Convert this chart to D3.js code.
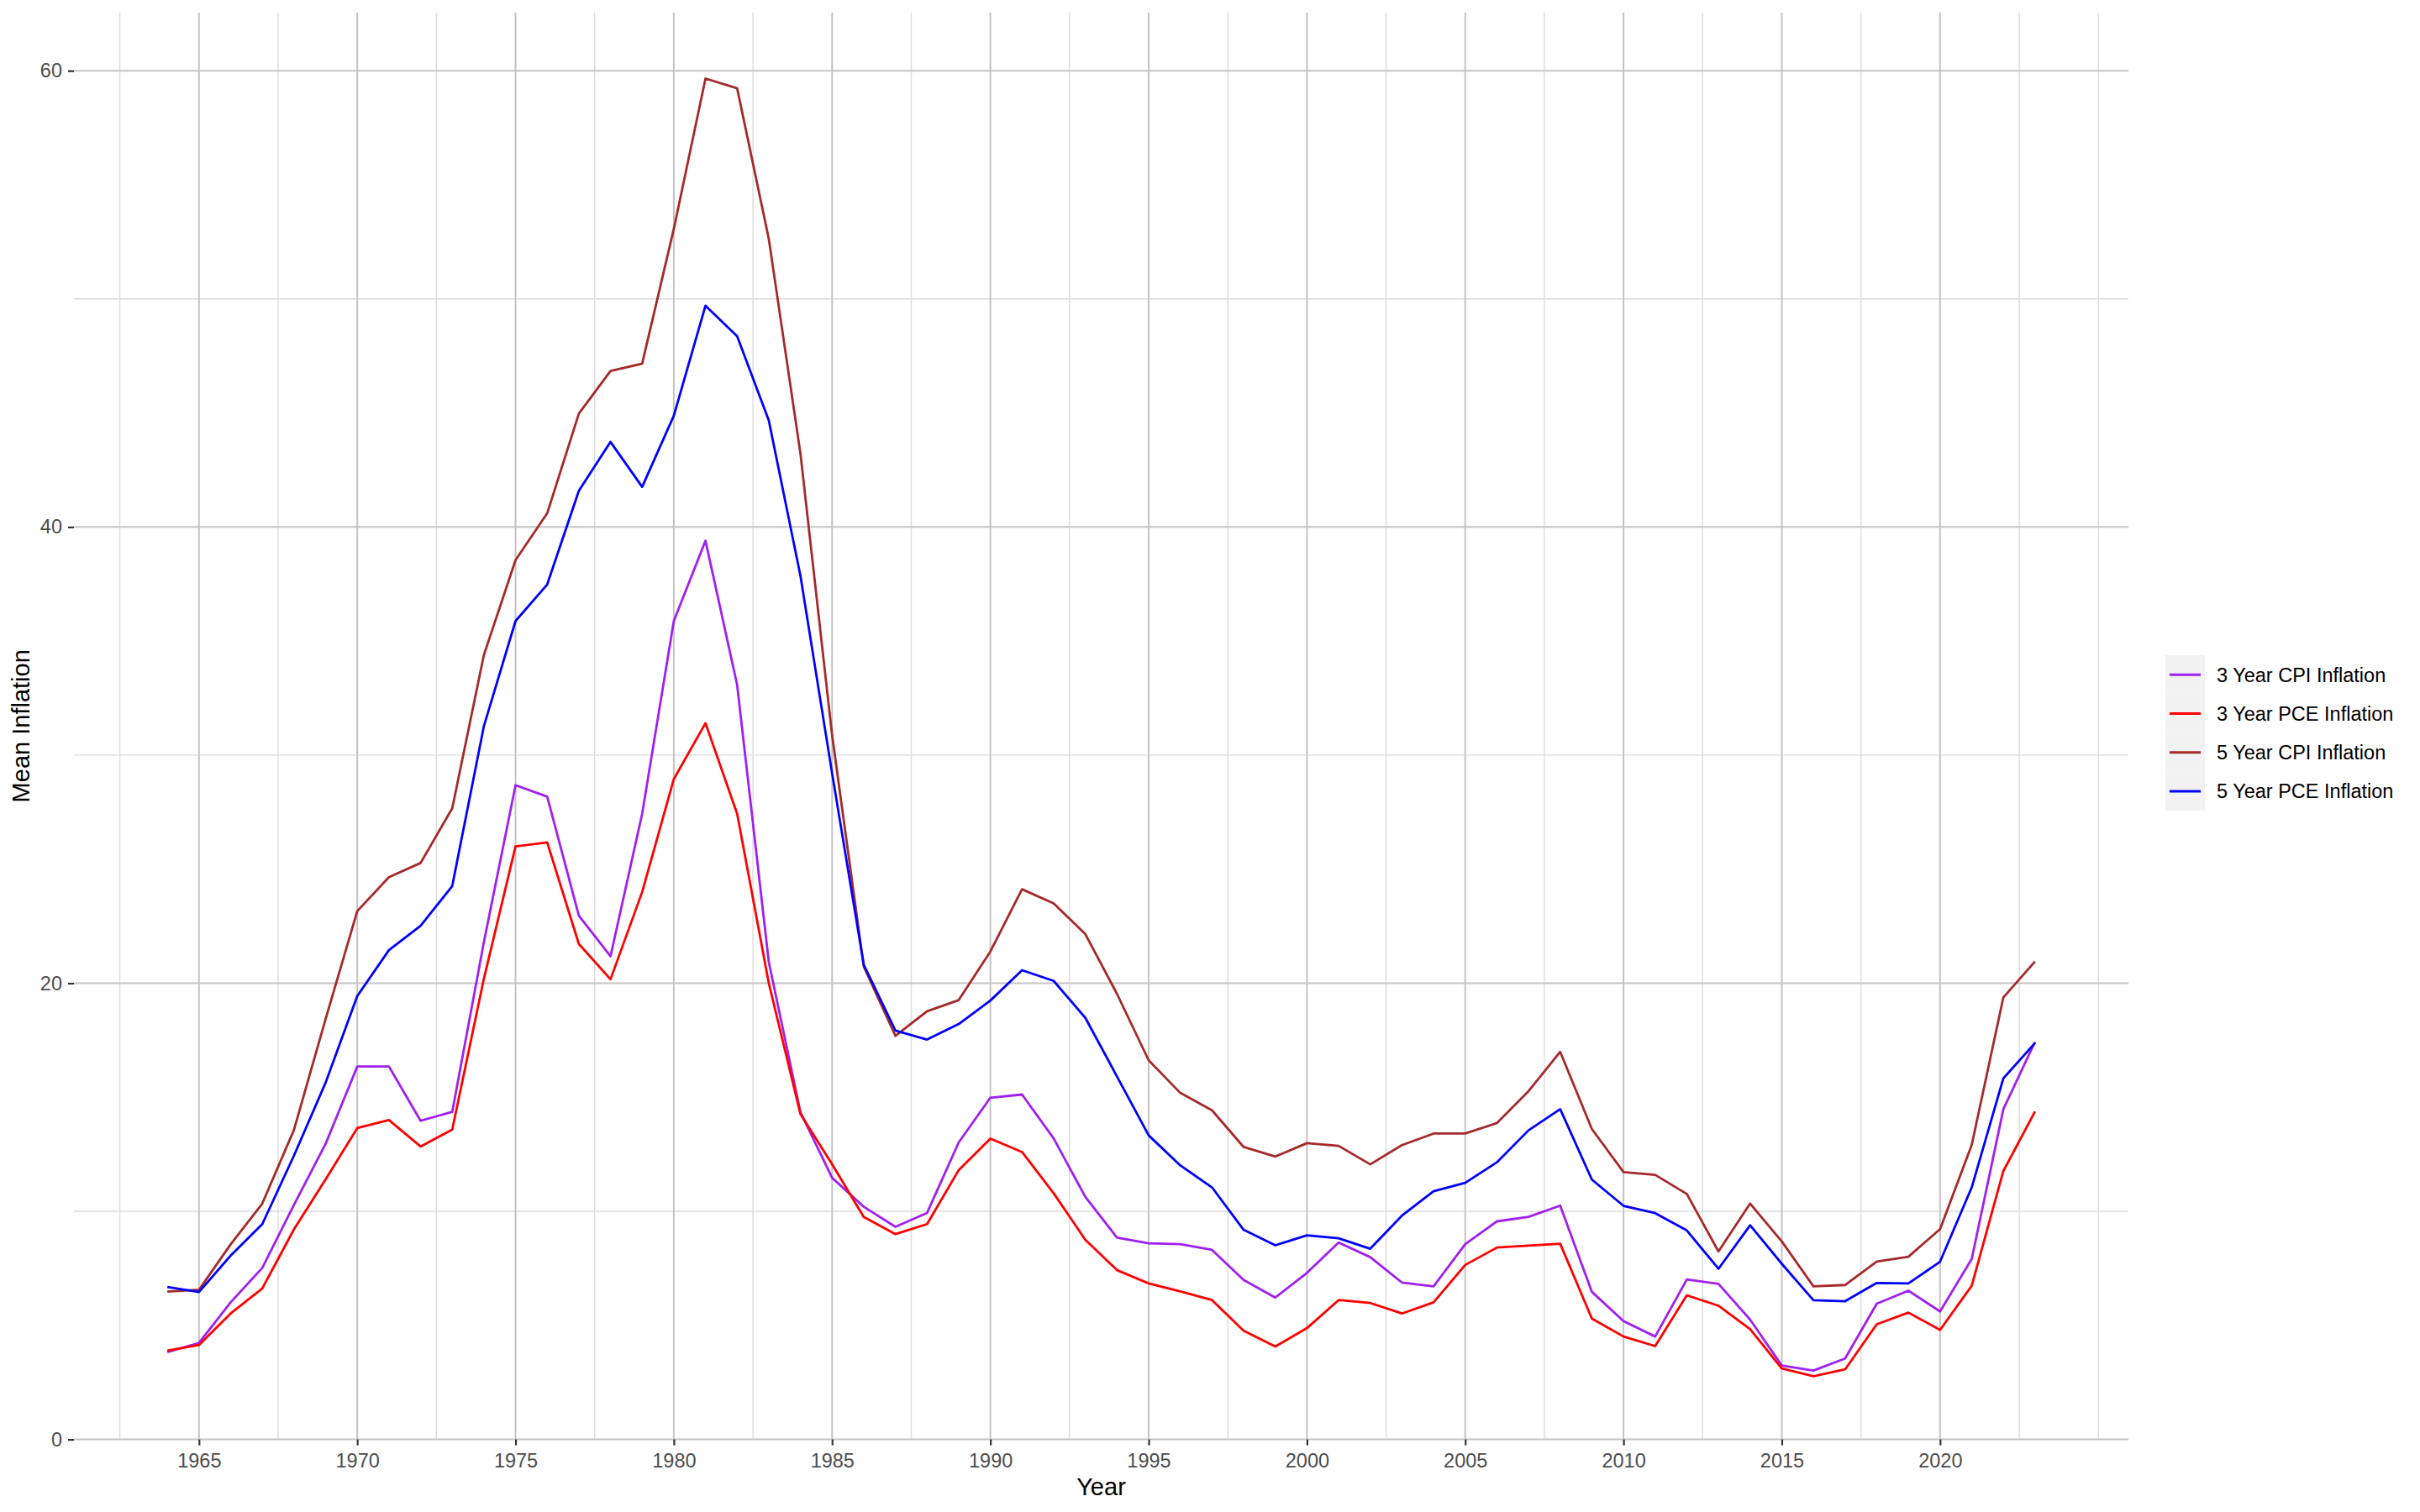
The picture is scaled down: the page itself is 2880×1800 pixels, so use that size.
<!DOCTYPE html>
<html>
<head>
<meta charset="utf-8">
<script src="https://cdn.jsdelivr.net/npm/d3@7"></script>
<style>
  body { margin: 0; background: #ffffff; }
  svg { display: block; font-family: 'Liberation Sans', Arial, Helvetica, sans-serif; }
</style>
</head>
<body>
<div id="container"></div>
<script>
// Mean inflation over rolling windows, 1964 - 2023

//### DATA ###
const years = d3.range( 1964, 2024 );

const cpi3 = [
  3.83, 4.23, 6.01, 7.52, 10.28, 12.96, 16.35, 16.35, 13.97, 14.36,
  21.8, 28.68, 28.18, 22.96, 21.18, 27.43, 35.88, 39.4, 33.08, 20.93,
  14.34, 11.47, 10.2, 9.32, 9.93, 13.02, 14.98, 15.12, 13.19, 10.63,
  8.85, 8.6, 8.56, 8.31, 6.99, 6.22, 7.3, 8.63, 7.99, 6.88,
  6.71, 8.56, 9.56, 9.76, 10.25, 6.47, 5.19, 4.51, 7.01, 6.82,
  5.25, 3.24, 3.02, 3.55, 5.95, 6.52, 5.61, 7.91, 14.48, 17.43
];

const pce3 = [
  3.89, 4.14, 5.52, 6.62, 9.21, 11.4, 13.65, 14.0, 12.84, 13.58,
  20.2, 26.0, 26.17, 21.72, 20.17, 24.0, 28.95, 31.4, 27.43, 20.0,
  14.26, 12.06, 9.75, 9.0, 9.44, 11.81, 13.19, 12.6, 10.79, 8.75,
  7.42, 6.84, 6.49, 6.11, 4.76, 4.07, 4.88, 6.11, 5.98, 5.52,
  6.01, 7.65, 8.41, 8.5, 8.58, 5.3, 4.51, 4.09, 6.32, 5.86,
  4.83, 3.11, 2.77, 3.07, 5.05, 5.56, 4.8, 6.74, 11.77, 14.38
];

const cpi5 = [
  6.48, 6.56, 8.55, 10.34, 13.57, 18.43, 23.16, 24.65, 25.27, 27.67,
  34.39, 38.55, 40.6, 44.97, 46.84, 47.16, 53.07, 59.66, 59.23, 52.63,
  43.22, 30.87, 20.73, 17.69, 18.77, 19.26, 21.39, 24.12, 23.5, 22.15,
  19.53, 16.62, 15.19, 14.43, 12.82, 12.4, 12.99, 12.87, 12.06, 12.9,
  13.41, 13.41, 13.87, 15.27, 16.99, 13.61, 11.72, 11.6, 10.76, 8.24,
  10.34, 8.68, 6.71, 6.77, 7.8, 8.01, 9.22, 12.91, 19.38, 20.95
];

const pce5 = [
  6.68, 6.46, 8.06, 9.44, 12.44, 15.64, 19.44, 21.45, 22.52, 24.26,
  31.27, 35.88, 37.48, 41.59, 43.73, 41.76, 44.88, 49.7, 48.36, 44.67,
  37.86, 29.2, 20.81, 17.92, 17.53, 18.21, 19.24, 20.57, 20.1, 18.48,
  15.91, 13.33, 12.01, 11.05, 9.19, 8.51, 8.95, 8.82, 8.36, 9.81,
  10.88, 11.25, 12.15, 13.55, 14.48, 11.39, 10.24, 9.92, 9.16, 7.48,
  9.39, 7.7, 6.1, 6.06, 6.86, 6.84, 7.79, 11.05, 15.83, 17.38
];

const seriesNames = [ '3 Year CPI Inflation', '3 Year PCE Inflation', '5 Year CPI Inflation', '5 Year PCE Inflation' ];
const seriesColors = [ '#A020F0', '#FF0000', '#A52A2A', '#0000FF' ];
const seriesValues = [ cpi3, pce3, cpi5, pce5 ];

const xTickLabels = d3.range( 1965, 2021, 5 );
const yTickLabels = [ 0, 20, 40, 60 ];


//### DRAW THE CHART ###
function drawChart () {
  //_____ VARIABLES _____
  const width = 2880;
  const height = 1800;
  const panel = { left: 88, right: 2533, top: 15, bottom: 1713.6 };
  const tickColor = '#333333';
  const labelColor = '#4D4D4D';

  //_____ SVG _____
  const svg = d3.select( '#container' )
    .append( 'svg' )
    .attr( 'width', width )
    .attr( 'height', height );

  //_____ SCALES _____
  //>>> x: data range plus 5% each side (like ggplot)
  const span = d3.max( years ) - d3.min( years );
  const xScale = d3.scaleLinear()
    .domain( [ d3.min( years ) - span * 0.05, d3.max( years ) + span * 0.05 ] )
    .range( [ panel.left, panel.right ] );

  //>>> y: starts at zero, a little headroom on top
  const yScale = d3.scaleLinear()
    .domain( [ 0, 62.55 ] )
    .range( [ panel.bottom, panel.top ] );

  //_____ GRID _____
  const grid = svg.append( 'g' ).attr( 'class', 'grid' );
  const xMinor = d3.range( 1962.5, 2026, 2.5 ).filter( d => !xTickLabels.includes( d ) );
  const yMinor = [ 10, 30, 50 ];

  //>>> Minor lines first (lighter):
  grid.selectAll( '.x-minor' )
    .data( xMinor )
    .enter()
    .append( 'line' )
    .attr( 'x1', d => xScale( d ) ).attr( 'x2', d => xScale( d ) )
    .attr( 'y1', panel.top ).attr( 'y2', panel.bottom )
    .attr( 'stroke', '#DCDCDC' )
    .attr( 'stroke-width', 1.4 );

  grid.selectAll( '.y-minor' )
    .data( yMinor )
    .enter()
    .append( 'line' )
    .attr( 'x1', panel.left ).attr( 'x2', panel.right )
    .attr( 'y1', d => yScale( d ) ).attr( 'y2', d => yScale( d ) )
    .attr( 'stroke', '#DCDCDC' )
    .attr( 'stroke-width', 1.4 );

  //>>> Major lines:
  grid.selectAll( '.x-major' )
    .data( xTickLabels )
    .enter()
    .append( 'line' )
    .attr( 'x1', d => xScale( d ) ).attr( 'x2', d => xScale( d ) )
    .attr( 'y1', panel.top ).attr( 'y2', panel.bottom )
    .attr( 'stroke', '#C4C4C4' )
    .attr( 'stroke-width', 2 );

  grid.selectAll( '.y-major' )
    .data( yTickLabels )
    .enter()
    .append( 'line' )
    .attr( 'x1', panel.left ).attr( 'x2', panel.right )
    .attr( 'y1', d => yScale( d ) ).attr( 'y2', d => yScale( d ) )
    .attr( 'stroke', '#C4C4C4' )
    .attr( 'stroke-width', 2 );

  //_____ AXES _____
  const xAxis = svg.append( 'g' )
    .attr( 'transform', `translate(0, ${panel.bottom})` )
    .call( d3.axisBottom( xScale ).tickValues( xTickLabels ).tickFormat( d3.format( 'd' ) ).tickSize( 7 ).tickPadding( 9.4 ) );

  const yAxis = svg.append( 'g' )
    .attr( 'transform', `translate(${panel.left}, 0)` )
    .call( d3.axisLeft( yScale ).tickValues( yTickLabels ).tickSize( 7 ).tickPadding( 7 ) );

  [ xAxis, yAxis ].forEach( axis => {
    axis.select( '.domain' ).remove();
    axis.selectAll( '.tick line' ).attr( 'stroke', tickColor ).attr( 'stroke-width', 2.2 );
    axis.selectAll( '.tick text' )
      .attr( 'fill', labelColor )
      .style( 'font-size', '23.5px' )
      .style( 'font-family', "'Liberation Sans', Arial, sans-serif" );
  } );

  //_____ AXIS TITLES _____
  svg.append( 'text' )
    .attr( 'x', ( panel.left + panel.right ) / 2 )
    .attr( 'y', 1780 )
    .attr( 'text-anchor', 'middle' )
    .style( 'font-size', '29px' )
    .text( 'Year' );

  svg.append( 'text' )
    .attr( 'transform', `translate(35, ${( panel.top + panel.bottom ) / 2}) rotate(-90)` )
    .attr( 'text-anchor', 'middle' )
    .style( 'font-size', '29px' )
    .text( 'Mean Inflation' );

  //_____ LINES _____
  const line = d3.line()
    .x( ( d, i ) => xScale( years[ i ] ) )
    .y( d => yScale( d ) );

  svg.append( 'g' )
    .selectAll( 'path' )
    .data( seriesValues )
    .enter()
    .append( 'path' )
    .attr( 'd', d => line( d ) )
    .attr( 'fill', 'none' )
    .attr( 'stroke', ( d, i ) => seriesColors[ i ] )
    .attr( 'stroke-width', 2.8 )
    .attr( 'stroke-linejoin', 'round' );

  //_____ LEGEND _____
  const keySize = 46.25;
  const legend = svg.append( 'g' )
    .attr( 'transform', 'translate(2577, 780)' );

  const items = legend.selectAll( 'g' )
    .data( seriesNames )
    .enter()
    .append( 'g' )
    .attr( 'transform', ( d, i ) => `translate(0, ${i * keySize})` );

  items.append( 'rect' )
    .attr( 'width', 47 )
    .attr( 'height', keySize )
    .attr( 'fill', '#F2F2F2' );

  items.append( 'line' )
    .attr( 'x1', 5 ).attr( 'x2', 42 )
    .attr( 'y1', keySize / 2 ).attr( 'y2', keySize / 2 )
    .attr( 'stroke', ( d, i ) => seriesColors[ i ] )
    .attr( 'stroke-width', 3 );

  items.append( 'text' )
    .attr( 'x', 61 )
    .attr( 'y', keySize / 2 )
    .attr( 'dy', '0.36em' )
    .style( 'font-size', '23.5px' )
    .text( d => d );
}

drawChart();
</script>
</body>
</html>
